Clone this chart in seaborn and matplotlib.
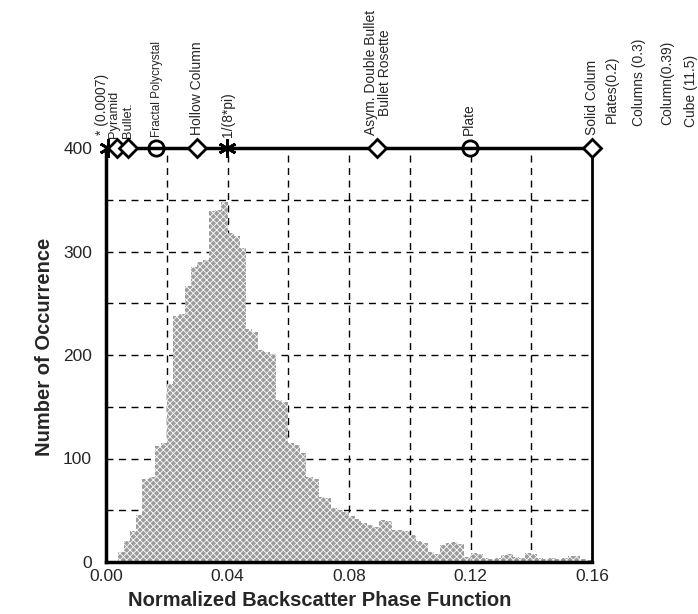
import numpy as np
import pandas as pd
import matplotlib
matplotlib.use("Agg")
import matplotlib.pyplot as plt
import seaborn as sns

# ---- data ----
bin_width = 0.002
counts = [0, 0, 10, 20, 30, 45, 80, 82, 112, 115,
          172, 238, 240, 267, 285, 290, 292, 339, 340, 348,
          318, 315, 303, 225, 222, 205, 203, 200, 157, 155,
          115, 113, 105, 82, 80, 63, 62, 52, 50, 48,
          44, 42, 38, 36, 34, 41, 40, 31, 31, 30,
          26, 20, 18, 10, 8, 16, 18, 19, 17, 5,
          9, 8, 4, 3, 4, 7, 8, 5, 4, 9,
          8, 4, 3, 4, 3, 4, 6, 6, 3, 2]

marker_x = [0.0007, 0.0036, 0.0072, 0.0165, 0.030, 0.0398, 0.0892, 0.1198, 0.16]
marker_kind = ["asterisk", "diamond", "diamond", "circle", "diamond", "asterisk", "diamond", "circle", "diamond"]
marker_labels = ["* (0.0007)", "Pyramid", "Bullet.", "Fractal Polycrystal", "Hollow Column",
                 "1/(8*pi)", "Asym. Double Bullet\nBullet Rosette", "Plate", "Solid Colum"]
offscale_labels = ["Plates(0.2)", "Columns (0.3)", "Column(0.39)", "Cube (11.5)"]

x_ticks = [0.00, 0.04, 0.08, 0.12, 0.16]
y_ticks = [0, 100, 200, 300, 400]

# ---- style / placement (pixels) ----
label_dx_px = [-6, -3, 0, 1, 0, 1, 1, -1, 0]
label_dy_px = [13, 10, 10, 11, 13, 11, 13, 13, 13]
label_fs = [10, 9.3, 9.3, 8.5, 10, 10, 10, 10, 10]
offscale_dx_px = [20, 47, 75, 99]
offscale_dy_px = [25, 22, 23, 21]
PX = 72 / 100.0  # points per pixel at dpi 100

# ---- build ----
n_bins = len(counts)
centers = (np.arange(n_bins) + 0.5) * bin_width
df = pd.DataFrame({"phase": centers, "n": np.asarray(counts, dtype=float)})

sns.set_style("white")
plt.rcParams["font.family"] = ["Liberation Sans", "DejaVu Sans"]
plt.rcParams["hatch.color"] = "#1a1a1a"
plt.rcParams["hatch.linewidth"] = 0.6

fig = plt.figure(figsize=(6.98, 6.14), dpi=100)
ax = fig.add_axes([106 / 698, 1 - 562 / 614, (592 - 106) / 698, (562 - 148) / 614])

sns.histplot(data=df, x="phase", weights="n", binwidth=bin_width,
             binrange=(0, n_bins * bin_width), ax=ax,
             element="bars", fill=True, color="#9c9c9c", alpha=1.0,
             linewidth=0, hatch="xxxxx", zorder=1)

ax.set_xlim(0, 0.16)
ax.set_ylim(0, 400)

# grid
for gx in np.arange(0.02, 0.155, 0.02):
    ax.axvline(gx, color="black", lw=1.0, ls=(0, (5, 4)), zorder=0.5)
for gy in np.arange(50, 400, 50):
    ax.axhline(gy, color="black", lw=1.0, ls=(0, (5, 4)), zorder=0.5)

ax.set_xticks(x_ticks)
ax.set_xticklabels([f"{t:.2f}" for t in x_ticks], fontsize=12.5)
ax.set_yticks(y_ticks)
ax.set_yticklabels([str(t) for t in y_ticks], fontsize=12.5)
ax.tick_params(axis="x", length=0, pad=5)
ax.tick_params(axis="y", length=0, pad=10)

for side in ["left", "bottom", "top", "right"]:
    ax.spines[side].set_visible(True)
    ax.spines[side].set_color("black")
ax.spines["left"].set_linewidth(2.5)
ax.spines["bottom"].set_linewidth(2.5)
ax.spines["top"].set_linewidth(2.5)
ax.spines["right"].set_linewidth(2.0)

ax.set_xlabel("Normalized Backscatter Phase Function", fontsize=14.5, fontweight="bold")
ax.set_ylabel("Number of Occurrence", fontsize=14.5, fontweight="bold")
ax.xaxis.set_label_coords((320 - 106) / 486, -(601 - 562) / 414)
ax.xaxis.label.set_va("center")
ax.yaxis.set_label_coords((45 - 106) / 486, (562 - 347) / 414)
ax.yaxis.label.set_va("center")

# top markers
style = {
    "diamond": dict(marker="D", ms=9, mfc="white", mec="black", mew=2.0),
    "circle": dict(marker="o", ms=11, mfc="none", mec="black", mew=2.0),
    "asterisk": dict(marker=(6, 2, 0), ms=13, mfc="black", mec="black", mew=2.0),
}
for xv, kind, lab, dx, dy, fs in zip(marker_x, marker_kind, marker_labels,
                                     label_dx_px, label_dy_px, label_fs):
    ax.plot([xv], [400], ls="none", clip_on=False, zorder=5, **style[kind])
    ax.annotate(lab, xy=(xv, 400), xytext=(dx * PX, dy * PX), textcoords="offset points",
                rotation=90, ha="center", va="bottom", fontsize=fs,
                linespacing=0.95, annotation_clip=False)

for lab, dx, dy in zip(offscale_labels, offscale_dx_px, offscale_dy_px):
    ax.annotate(lab, xy=(0.16, 400), xytext=(dx * PX, dy * PX), textcoords="offset points",
                rotation=90, ha="center", va="bottom", fontsize=10, annotation_clip=False)

fig.savefig("out.png", dpi=100)
